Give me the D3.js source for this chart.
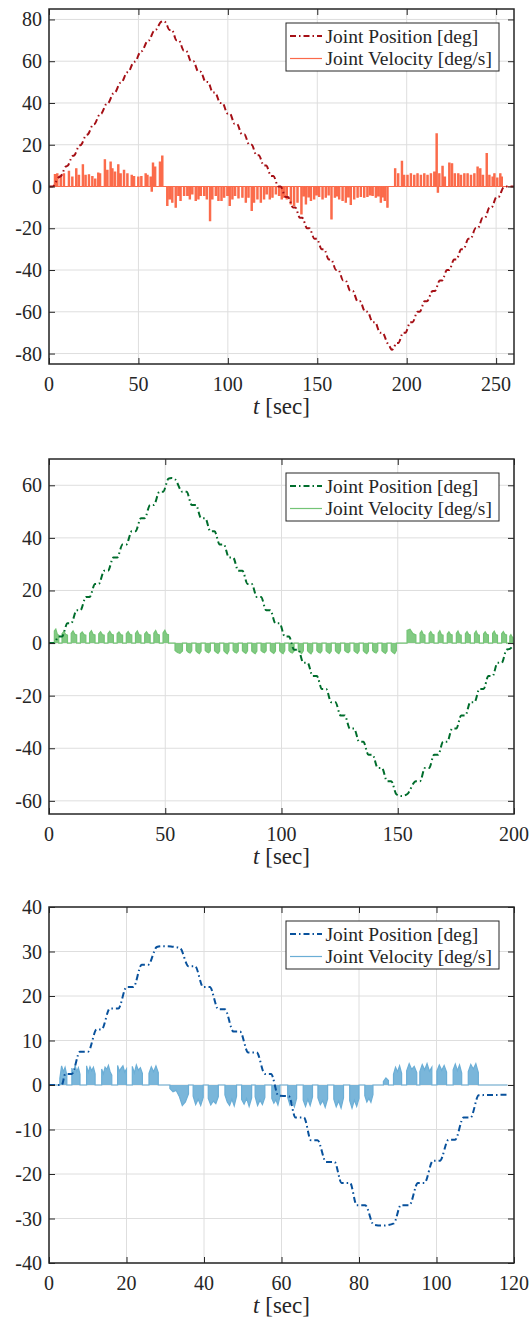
<!DOCTYPE html>
<html>
<head>
<meta charset="utf-8">
<script src="https://cdn.jsdelivr.net/npm/d3@7"></script>
</head>
<body style="margin:0">
<svg id="fig" width="531" height="1324"></svg>
<script>
// ---------- tick values ----------
const xTicks1 = [0, 50, 100, 150, 200, 250];
const yTicks1 = [-80, -60, -40, -20, 0, 20, 40, 60, 80];
const xTicks2 = [0, 50, 100, 150, 200];
const yTicks2 = [-60, -40, -20, 0, 20, 40, 60];
const xTicks3 = [0, 20, 40, 60, 80, 100, 120];
const yTicks3 = [-40, -30, -20, -10, 0, 10, 20, 30, 40];

const legendLabels = ["Joint Position [deg]", "Joint Velocity [deg/s]"];

// ---------- joint 1: position [t, deg] ----------
const pos1 = [
  [0,0],[2,0],[5.5,4.5],[6.7,5],[9.3,9.5],[10.5,10],[13,14.5],[14.2,15],[16.8,19.5],[18,20],
  [20.6,24.5],[21.8,25],[24.4,29.5],[25.6,30],[28.2,34.5],[29.4,35],[32,39.5],[33.2,40],
  [35.8,44.5],[37,45],[39.6,49.5],[40.8,50],[43.4,54.5],[44.6,55],[47.2,59.5],[48.4,60],
  [51,64.5],[52.2,65],[54.8,69.5],[56,70],[58.6,74.5],[59.8,75],[62.6,78.8],[64,79.2],
  [65.2,78.6],[67.4,75],[68.7,75],[71.3,70],[72.6,70],[75.4,65],[76.7,65],[79.4,60],[80.7,60],
  [83.5,55],[84.8,55],[87.6,50],[88.9,50],[91.6,45],[92.9,45],[95.7,40],[97,40],[99.8,35],
  [101.1,35],[103.8,30],[105.1,30],[107.9,25],[109.2,25],[112,20],[113.3,20],[116,15],[117.3,15],
  [120.1,10],[121.4,10],[124.2,5],[125.5,5],[128.2,0],[129.5,0],[132.3,-5],[133.6,-5],
  [136.4,-10],[137.7,-10],[140.3,-15],[141.6,-15],[144.3,-20],[145.6,-20],[148.4,-25],[149.7,-25],
  [152.5,-30],[153.8,-30],[156.5,-35],[157.8,-35],[160.5,-40],[161.8,-40],[164.5,-45],[165.8,-45],
  [168.5,-50],[169.8,-50],[172.6,-55],[173.9,-55],[176.8,-60],[178.1,-60],[181,-65],[182.3,-65],
  [185.1,-70],[186.4,-70],[189.2,-75],[190.4,-76.5],[191.7,-78.2],
  [193,-77],[194,-75],[195.3,-75],[198,-70],[199.3,-70],[202,-65],[203.3,-65],[206,-60],[207.3,-60],
  [210,-55],[211.3,-55],[214.5,-50],[215.8,-50],[218.5,-45],[219.8,-45],[222.5,-40],[223.8,-40],
  [226.5,-35],[227.8,-35],[230.5,-30],[231.8,-30],[234.5,-25],[235.8,-25],[238.5,-20],[239.8,-20],
  [242.5,-15],[243.8,-15],[246.3,-10],[247.5,-10],[250.2,-5],[251.3,-5],[254,-0.5],[255,0],[260,0]
];

// ---------- joint 1: velocity spikes [t, deg/s] ----------
const vel1 = [
  [3.0,5.7],[4.3,6.0],[6.2,5.3],[8.0,6.0],[10.8,7.3],[12.7,4.5],[14.9,8.5],[16.4,5.3],[18.6,10.4],
  [20.1,5.3],[22.0,5.6],[23.9,4.8],[25.5,3.5],[27.2,6.4],[28.2,6.0],[30.9,12.8],[32.3,7.7],
  [34.1,11.7],[35.1,8.5],[36.6,6.9],[38.4,10.4],[39.7,6.0],[41.6,7.7],[43.5,6.0],[45.9,5.3],
  [47.2,4.8],[49.6,4.5],[51.3,4.8],[53.7,6.0],[54.7,5.3],[56.5,4.5],[57.1,-2.2],[57.8,11.2],
  [59.0,9.3],[61.7,11.7],[63.0,14.5],
  [65.8,-9.1],[67.2,-5.9],[68.6,-7.5],[70.5,-9.9],[72.0,-4.3],[73.2,-6.7],[75.2,-4.3],[77.0,-4.3],
  [78.4,-5.9],[79.8,-3.5],[81.7,-6.7],[83.2,-5.9],[84.5,-4.3],[86.4,-4.3],[87.9,-5.9],[89.7,-16.3],
  [91.0,-5.9],[92.9,-4.3],[94.4,-6.7],[96.1,-6.7],[97.6,-5.1],[99.4,-4.3],[100.7,-9.1],[102.2,-5.9],
  [103.7,-4.3],[105.6,-5.4],[107.8,-5.1],[109.7,-7.5],[111.2,-5.1],[113.0,-11.5],[114.3,-7.5],
  [116.2,-5.9],[118.1,-7.5],[119.9,-5.9],[121.4,-3.5],[123.1,-5.9],[124.6,-5.1],[126.5,-3.5],
  [128.3,-4.3],[129.8,-5.9],[131.1,-5.1],[132.6,-5.9],[134.9,-8.3],[136.7,-9.1],[138.6,-7.5],
  [140.8,-13.1],[142.2,-4.5],[143.3,-8.3],[144.8,-5.0],[146.1,-6.7],[147.9,-5.9],[149.3,-4.0],
  [150.7,-4.8],[152.6,-5.9],[154.4,-5.1],[156.0,-4.0],[157.6,-15.5],[159.5,-5.1],[160.7,-4.5],
  [161.9,-5.9],[163.8,-6.7],[165.6,-7.5],[167.0,-5.0],[168.4,-8.6],[170.3,-5.9],[172.2,-5.1],
  [174.0,-4.8],[175.9,-5.1],[177.7,-4.8],[179.2,-4.0],[180.6,-4.3],[182.4,-5.1],[183.8,-4.5],
  [185.2,-7.5],[186.3,-5.0],[187.4,-6.7],[188.9,-9.9],
  [193.2,8.5],[194.9,6.1],[197.0,12.1],[198.2,5.3],[200.1,5.3],[202.0,6.1],[203.9,5.3],[205.7,6.1],
  [207.6,5.3],[209.5,6.1],[211.3,5.3],[213.2,6.1],[215.1,6.9],[216.4,25.2],[217.1,-2.7],[217.9,6.1],
  [219.7,9.6],[221.0,4.5],[223.5,11.2],[225.0,10.9],[226.6,6.1],[228.5,6.1],[230.0,5.3],[231.9,6.1],
  [233.7,6.1],[235.6,5.3],[237.5,6.1],[239.3,9.3],[240.8,8.5],[242.3,5.3],[244.4,15.7],[245.9,5.3],
  [247.7,4.5],[248.7,6.1],[250.3,4.0],[252.0,6.1],[252.8,4.5]
];

// ---------- joint 2: position [t, deg] ----------
const pos2 = [
  [0,0],[2.3,0],[4.0,2.5],[5.6,2.5],[7.95,7.5],[9.55,7.5],[11.9,12.5],[13.5,12.5],[15.85,17.5],
  [17.45,17.5],[19.8,22.5],[21.4,22.5],[23.75,27.5],[25.35,27.5],[27.7,32.5],[29.3,32.5],
  [31.65,37.5],[33.25,37.5],[35.6,42.5],[37.2,42.5],[39.55,47.5],[41.15,47.5],[43.5,52.5],
  [45.1,52.5],[47.45,57.5],[49.05,57.5],[51.4,62.5],[52.8,62.8],[54.2,62.3],
  [57.4,57.5],[59.2,57.5],[61.4,52.5],[63.2,52.5],[65.4,47.5],[67.2,47.5],[69.4,42.5],[71.2,42.5],
  [73.4,37.5],[75.2,37.5],[77.4,32.5],[79.2,32.5],[81.4,27.5],[83.2,27.5],[85.4,22.5],[87.2,22.5],
  [89.4,17.5],[91.2,17.5],[93.4,12.5],[95.2,12.5],[97.4,7.5],[99.2,7.5],[101.4,2.5],[103.2,2.5],
  [105.4,-2.5],[107.2,-2.5],[109.4,-7.5],[111.2,-7.5],[113.4,-12.5],[115.2,-12.5],[117.4,-17.5],
  [119.2,-17.5],[121.4,-22.5],[123.2,-22.5],[125.4,-27.5],[127.2,-27.5],[129.4,-32.5],[131.2,-32.5],
  [133.4,-37.5],[135.2,-37.5],[137.4,-42.5],[139.2,-42.5],[141.4,-47.5],[143.2,-47.5],[145.4,-52.5],
  [147.2,-52.5],[149.4,-57.5],[151.5,-58.2],[154,-57.5],
  [157.8,-52.5],[159.6,-52.5],[161.7,-47.5],[163.5,-47.5],[165.6,-42.5],[167.4,-42.5],[169.5,-37.5],
  [171.3,-37.5],[173.4,-32.5],[175.2,-32.5],[177.3,-27.5],[179.1,-27.5],[181.2,-22.5],[183,-22.5],
  [185.1,-17.5],[186.9,-17.5],[189,-12.5],[190.8,-12.5],[192.9,-7.5],[194.7,-7.5],[196.8,-2.5],
  [198.2,-2.2],[200,-0.6]
];

// ---------- joint 2: velocity pulses [start, end, [values across the pulse]] ----------
const vel2 = [
  [2.3,4.2,[4.6,5.3,3.4,3.0]],[5.6,7.95,[3.6,4.4,3.3,3.0]],[9.55,11.9,[3.7,4.6,3.3,3.1]],[13.5,15.85,[3.5,4.2,3.2,3.0]],
  [17.45,19.8,[3.8,4.7,3.3,3.1]],[21.4,23.75,[3.5,4.3,3.2,3.0]],[25.35,27.7,[3.6,4.5,3.3,3.1]],[29.3,31.65,[3.5,4.2,3.2,3.0]],
  [33.25,35.6,[3.6,4.4,3.3,3.1]],[37.2,39.55,[3.7,4.6,3.2,3.0]],[41.15,43.5,[3.5,4.3,3.3,3.1]],[45.1,47.45,[3.8,4.8,3.3,3.1]],
  [49.05,51.4,[3.9,4.9,3.4,3.2]],
  [54.2,57.4,[-2.8,-3.6,-3.9,-3.0]],[59.2,61.4,[-2.8,-3.5,-3.8,-2.9]],[63.2,65.4,[-2.9,-3.6,-4.0,-3.0]],[67.2,69.4,[-2.8,-3.4,-3.7,-2.9]],
  [71.2,73.4,[-2.9,-3.5,-3.9,-3.0]],[75.2,77.4,[-2.9,-3.6,-4.1,-2.9]],[79.2,81.4,[-2.8,-3.5,-3.8,-3.0]],[83.2,85.4,[-2.9,-3.5,-3.9,-2.9]],
  [87.2,89.4,[-3.0,-3.6,-4.0,-3.0]],[91.2,93.4,[-2.8,-3.4,-3.7,-2.9]],[95.2,97.4,[-2.9,-3.5,-3.9,-3.0]],[99.2,101.4,[-2.9,-3.6,-4.0,-2.9]],
  [103.2,105.4,[-2.8,-3.5,-3.8,-3.0]],[107.2,109.4,[-2.9,-3.5,-3.9,-2.9]],[111.2,113.4,[-2.9,-3.6,-4.1,-3.0]],[115.2,117.4,[-2.8,-3.5,-3.8,-2.9]],
  [119.2,121.4,[-2.9,-3.5,-3.9,-3.0]],[123.2,125.4,[-2.9,-3.6,-4.0,-2.9]],[127.2,129.4,[-2.8,-3.4,-3.7,-3.0]],[131.2,133.4,[-2.9,-3.5,-3.9,-2.9]],
  [135.2,137.4,[-2.9,-3.6,-4.0,-3.0]],[139.2,141.4,[-2.8,-3.5,-3.8,-2.9]],[143.2,145.4,[-2.9,-3.5,-3.9,-3.0]],[147.2,149.4,[-2.9,-3.6,-4.0,-2.9]],
  [154.0,157.8,[4.8,5.3,3.6,3.1]],[159.6,161.7,[3.8,4.6,3.3,3.0]],[163.5,165.6,[3.6,4.4,3.3,3.1]],[167.4,169.5,[3.8,4.7,3.2,3.0]],
  [171.3,173.4,[3.5,4.3,3.3,3.1]],[175.2,177.3,[3.7,4.6,3.2,3.0]],[179.1,181.2,[3.6,4.4,3.3,3.1]],[183.0,185.1,[3.7,4.6,3.2,3.0]],
  [186.9,189.0,[3.5,4.3,3.3,3.1]],[190.8,192.9,[3.7,4.5,3.2,3.0]],[194.7,196.8,[3.6,4.4,3.3,3.1]],[198.2,199.6,[2.6,3.2,2.4,2.0]]
];

// ---------- joint 3: position [t, deg] ----------
const pos3 = [
  [0,0],[3.3,0],[4.2,2.5],[5.9,2.5],[8.0,7.5],[10.1,7.5],[12.3,12.5],[13.6,12.5],[15.7,17.2],[17.9,17.2],
  [20.0,22],[21.8,22],[23.9,27],[25.6,27],[27.8,31.0],[29.0,31.2],[31.5,31.1],[33.8,30.8],
  [36.0,26.7],[37.7,26.7],[39.8,22],[41.5,22],[43.7,17],[45.4,17],[47.6,12],[49.3,12],[51.4,7.3],
  [53.6,7.3],[55.7,2.5],[57.3,2.5],[59.2,-2.4],[61.9,-2.5],[63.6,-7.3],[65.8,-7.3],[67.6,-12.4],
  [69.3,-12.4],[71.5,-17.3],[73.7,-17.3],[75.5,-22],[77.7,-22],[79.4,-27],[81.6,-27],[83.8,-31.4],
  [86,-31.6],[89,-31.1],[90.8,-27],[93.0,-27],[95.2,-22],[96.9,-22],[99.1,-17],[100.9,-17],
  [103.1,-12.3],[104.8,-12.3],[107.0,-7.3],[108.8,-7.3],[110.9,-2.3],[118.3,-2.2]
];

// ---------- joint 3: velocity pulses [start, end, [values across the pulse]] ----------
const vel3 = [
  [2.8,4.6,[1.5,4.3,3.0,4.0,2.2]],[5.9,8.0,[3.8,2.6,4.4,3.0,3.9,2.4]],[9.7,11.9,[4.3,2.8,4.1,3.2,4.0,2.5]],
  [13.6,16.2,[3.6,2.5,4.0,3.5,4.4,3.0,2.2]],[17.7,20.0,[4.4,3.1,3.8,4.3,2.9,3.6]],
  [21.5,24.1,[4.2,2.7,4.5,3.3,3.9,2.6]],[25.8,28.2,[2.6,4.1,3.0,4.3,2.8]],
  [31.2,36.0,[-0.8,-1.5,-1.2,-2.5,-4.6,-3.8,-2.0]],[37.2,39.8,[-2.5,-4.4,-3.2,-4.6,-2.8]],
  [41.1,43.7,[-3.0,-4.5,-3.6,-4.2,-2.6]],[45.4,48.4,[-2.2,-3.8,-4.6,-3.2,-4.7,-2.5]],
  [49.7,52.3,[-3.2,-4.3,-3.0,-4.8,-2.9]],[53.2,55.7,[-2.6,-4.6,-3.4,-4.4,-2.8]],
  [57.5,59.6,[-3.0,-4.1,-3.3,-4.5,-2.6]],[61.6,63.9,[-2.8,-4.5,-3.6,-4.9,-3.0]],
  [65.6,68.0,[-3.4,-4.8,-3.2,-4.6,-2.7]],[69.4,71.9,[-2.9,-4.4,-3.5,-5.0,-3.1]],
  [73.5,76.0,[-3.2,-4.9,-3.6,-5.2,-2.9]],[77.6,80.0,[-3.5,-5.2,-3.4,-4.8,-3.0]],
  [81.5,83.6,[-2.4,-3.8,-3.0,-3.9,-2.2]],
  [86.3,87.6,[0.8,1.6,1.0]],[88.9,91.0,[2.4,4.0,3.0,4.3,2.6]],[92.3,94.9,[3.2,4.8,3.5,4.2,2.8]],
  [95.7,98.8,[3.0,4.6,3.4,4.8,3.1,4.0]],[100.1,102.6,[3.1,4.5,3.3,4.4,2.9]],
  [104.3,106.5,[3.4,4.7,3.2,4.5,2.7]],[108.2,110.8,[3.0,4.6,3.6,4.8,2.8]]
];

// ---------- drawing ----------
const FONT = '"Liberation Serif"';
const INK = "#262626";
const svg = d3.select("#fig");
const X0 = 49, X1 = 514;
const TICK = 6;

// narrow spikes -> polyline along the time axis
function spikesToPath(spikes, tEnd, width) {
  const pts = [[0, 0]];
  spikes.forEach(([t, v]) => {
    pts.push([t, 0], [t, v], [t + width, v], [t + width, 0]);
  });
  pts.push([tEnd, 0]);
  return pts;
}
// pulses with values spread evenly between start and end
function pulsesToPath(pulses, tEnd) {
  const pts = [[0, 0]];
  pulses.forEach(([s, e, vals]) => {
    pts.push([s, 0]);
    vals.forEach((v, i) => pts.push([s + (e - s) * i / (vals.length - 1), v]));
    pts.push([e, 0]);
  });
  pts.push([tEnd, 0]);
  return pts;
}

const panels = [
  { top: 9,   bottom: 364,  xDom: [0, 260], yDom: [-85, 85], xT: xTicks1, yT: yTicks1,
    pos: pos1, vel: spikesToPath(vel1, 260, 0.7), posColor: "#a50f15", velColor: "#fb6a4a" },
  { top: 459, bottom: 814,  xDom: [0, 200], yDom: [-65, 70], xT: xTicks2, yT: yTicks2,
    pos: pos2, vel: pulsesToPath(vel2, 200), posColor: "#006d2c", velColor: "#74c476" },
  { top: 907, bottom: 1263, xDom: [0, 120], yDom: [-40, 40], xT: xTicks3, yT: yTicks3,
    pos: pos3, vel: pulsesToPath(vel3, 118.3), posColor: "#08519c", velColor: "#6baed6" }
];

// all text goes straight into the svg root
function label(xp, yp, txt, size, anchor) {
  return svg.append("text").attr("x", xp).attr("y", yp).attr("font-size", size)
    .attr("text-anchor", anchor).attr("fill", INK)
    .style("font-family", FONT).text(txt);
}

panels.forEach((p, i) => {
  const x = d3.scaleLinear().domain(p.xDom).range([X0, X1]);
  const y = d3.scaleLinear().domain(p.yDom).range([p.bottom, p.top]);
  const g = svg.append("g");

  const clipId = "clip" + i;
  svg.append("clipPath").attr("id", clipId)
    .append("rect").attr("x", X0).attr("y", p.top).attr("width", X1 - X0).attr("height", p.bottom - p.top);

  // grid
  const grid = g.append("g").attr("stroke", "#dedede").attr("stroke-width", 1);
  p.xT.forEach(t => grid.append("line").attr("x1", x(t)).attr("x2", x(t)).attr("y1", p.top).attr("y2", p.bottom));
  p.yT.forEach(v => grid.append("line").attr("x1", X0).attr("x2", X1).attr("y1", y(v)).attr("y2", y(v)));

  const plot = g.append("g").attr("clip-path", `url(#${clipId})`);

  // velocity
  const area = d3.area().x(d => x(d[0])).y0(y(0)).y1(d => y(d[1]));
  const line = d3.line().x(d => x(d[0])).y(d => y(d[1]));
  plot.append("path").datum(p.vel).attr("d", area).attr("fill", p.velColor).attr("fill-opacity", 0.9);
  plot.append("path").datum(p.vel).attr("d", line).attr("fill", "none")
    .attr("stroke", p.velColor).attr("stroke-width", 1.2).attr("stroke-linejoin", "miter");

  // position
  const posLine = d3.line().x(d => x(d[0])).y(d => y(d[1])).curve(d3.curveMonotoneX);
  plot.append("path").datum(p.pos).attr("d", posLine).attr("fill", "none")
    .attr("stroke", p.posColor).attr("stroke-width", 2)
    .attr("stroke-dasharray", "6,3,1.5,3");

  // tick marks pointing inward on all four sides (labels drawn separately)
  const styleAxis = sel => {
    sel.select(".domain").remove();
    sel.selectAll(".tick line").attr("stroke", INK);
    sel.selectAll(".tick text").remove();
  };
  g.append("g").attr("transform", `translate(0,${p.bottom})`)
    .call(d3.axisBottom(x).tickValues(p.xT).tickSize(-TICK)).call(styleAxis);
  g.append("g").attr("transform", `translate(${X0},0)`)
    .call(d3.axisLeft(y).tickValues(p.yT).tickSize(-TICK)).call(styleAxis);
  g.append("g").attr("transform", `translate(0,${p.top})`)
    .call(d3.axisTop(x).tickValues(p.xT).tickSize(-TICK)).call(styleAxis);
  g.append("g").attr("transform", `translate(${X1},0)`)
    .call(d3.axisRight(y).tickValues(p.yT).tickSize(-TICK)).call(styleAxis);

  g.append("rect").attr("x", X0).attr("y", p.top).attr("width", X1 - X0).attr("height", p.bottom - p.top)
    .attr("fill", "none").attr("stroke", INK).attr("stroke-width", 1.5);

  // tick labels
  p.xT.forEach(t => label(x(t), p.bottom + 27, String(t), 20, "middle"));
  p.yT.forEach(v => label(X0 - 7, y(v) + 7, String(v), 20, "end"));

  // x-axis title
  const title = label((X0 + X1) / 2, p.bottom + 50, null, 23, "middle");
  title.append("tspan").style("font-style", "italic").text("t");
  title.append("tspan").text("\u00a0[sec]");

  // legend
  const lx = 286, lw = 213, lt = p.top + 14, lh = 48;
  svg.append("rect").attr("x", lx).attr("y", lt).attr("width", lw).attr("height", lh)
    .attr("fill", "#fff").attr("stroke", INK).attr("stroke-width", 1);
  svg.append("line").attr("x1", lx + 4).attr("x2", lx + 36).attr("y1", lt + 13).attr("y2", lt + 13)
    .attr("stroke", p.posColor).attr("stroke-width", 2).attr("stroke-dasharray", "6,3,1.5,3");
  svg.append("line").attr("x1", lx + 4).attr("x2", lx + 36).attr("y1", lt + 35.5).attr("y2", lt + 35.5)
    .attr("stroke", p.velColor).attr("stroke-width", 1.2);
  label(lx + 39.5, lt + 19.5, legendLabels[0], 19.5, "start");
  label(lx + 39.5, lt + 42, legendLabels[1], 19.5, "start");
});
</script>
</body>
</html>
